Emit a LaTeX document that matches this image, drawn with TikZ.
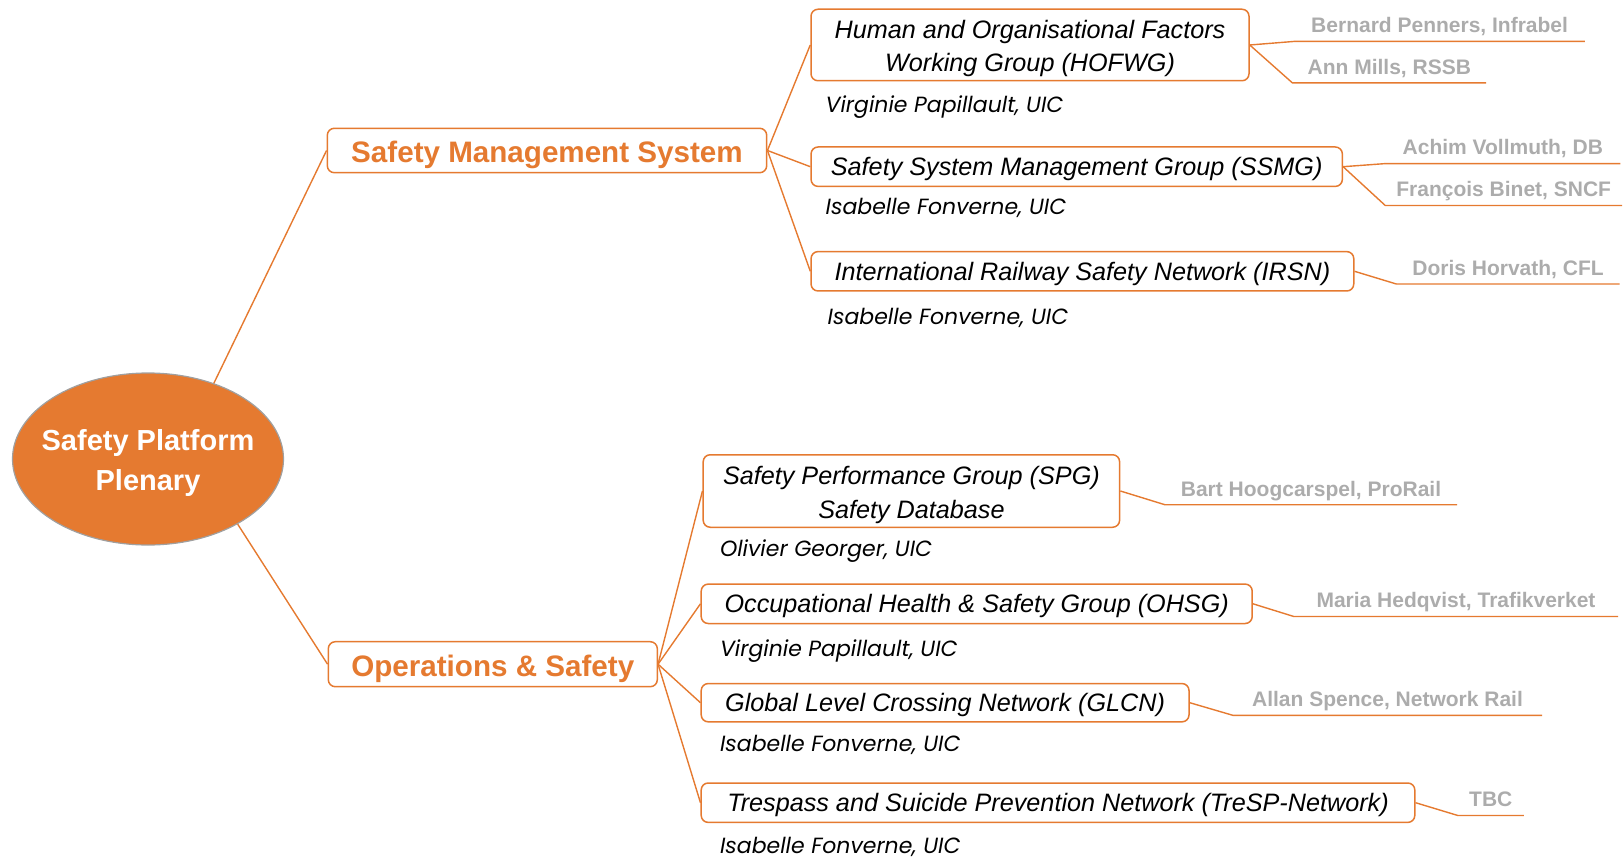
\documentclass[tikz,border=0pt]{standalone}
\usepackage{fontspec}
\setmainfont{Liberation Sans}
\newfontfamily\leadfont{Poppins}
\usetikzlibrary{shapes.geometric}
\definecolor{uicorange}{RGB}{229,122,48}
\definecolor{rimgray}{RGB}{160,160,160}
\definecolor{namegray}{RGB}{172,172,172}
\tikzset{
  hub/.style = {ellipse, draw=rimgray, line width=1.2pt, fill=uicorange, text=white, inner xsep=-30pt, inner ysep=0pt, minimum width=271pt, minimum height=172pt, align=center, text height=62pt, text depth=0pt, font=\fontsize{29}{39.5}\selectfont\bfseries},
  area/.style = {draw=uicorange, line width=1.5pt, rounded corners=7pt, fill=white, text=uicorange, inner sep=0pt, text height=24pt, text depth=0pt, font=\fontsize{29.6}{34}\selectfont\bfseries},
  group/.style = {draw=uicorange, line width=1.5pt, rounded corners=7pt, fill=white, inner sep=0pt, minimum height=39.4pt, text height=18pt, text depth=0pt, font=\fontsize{25.2}{33.5}\selectfont\itshape},
  twoline/.style = {align=center, text height=54pt},
  lead/.style = {anchor=base west, inner sep=0pt, font=\leadfont\fontsize{22}{24}\selectfont\itshape},
  member/.style = {anchor=south, inner xsep=0pt, inner ysep=8.5pt, text depth=0pt, text=namegray, font=\fontsize{21}{24}\selectfont\bfseries},
  link/.style = {draw=uicorange, line width=1.4pt}
}
\begin{document}
\begin{tikzpicture}[x=1pt, y=-1pt]
\useasboundingbox (0,0) rectangle (1624,858);

\node[hub] (plenary) at (148,459) {Safety Platform\\Plenary};

\node[area, minimum width=439.4pt, minimum height=44.4pt] (sms) at (547,150.5) {Safety Management System};
\node[area, minimum width=329pt, minimum height=45pt] (ops) at (492.8,664.2) {Operations \& Safety};

\node[group, twoline, minimum width=438pt, minimum height=71.5pt] (hofwg) at (1030,45) {Human and Organisational Factors\\Working Group (HOFWG)};
\node[group, minimum width=531.3pt] (ssmg) at (1076.7,166.7) {Safety System Management Group (SSMG)};
\node[group, minimum width=542.7pt] (irsn) at (1082.4,271.3) {International Railway Safety Network (IRSN)};
\node[group, twoline, minimum width=416.4pt, minimum height=72.5pt] (spg) at (911.4,491) {Safety Performance Group (SPG)\\Safety Database};
\node[group, minimum width=551pt] (ohsg) at (976.7,603.8) {Occupational Health \& Safety Group (OHSG)};
\node[group, minimum width=487.8pt, minimum height=38.3pt] (glcn) at (945.1,702.7) {Global Level Crossing Network (GLCN)};
\node[group, minimum width=713.6pt] (tresp) at (1058,802.7) {Trespass and Suicide Prevention Network (TreSP-Network)};

\node[lead] (hofwglead) at (825.5,112.6) {Virginie Papillault, UIC};
\node[lead] (ssmglead) at (825.5,215) {Isabelle Fonverne, UIC};
\node[lead] (irsnlead) at (827.5,325) {Isabelle Fonverne, UIC};
\node[lead] (spglead) at (719.8,556.9) {Olivier Georger, UIC};
\node[lead] (ohsglead) at (719.8,656.3) {Virginie Papillault, UIC};
\node[lead] (glcnlead) at (719.8,751.6) {Isabelle Fonverne, UIC};
\node[lead] (tresplead) at (719.8,853.1) {Isabelle Fonverne, UIC};

\node[member, minimum width=290pt] (bernard) at (1439.6,41.4) {Bernard Penners, Infrabel};
\node[member, minimum width=193.4pt] (ann) at (1389.3,82.9) {Ann Mills, RSSB};
\node[member, minimum width=234.5pt] (achim) at (1502.8,163.6) {Achim Vollmuth, DB};
\node[member, minimum width=236.5pt] (francois) at (1503.7,205.5) {François Binet, SNCF};
\node[member, minimum width=223pt] (doris) at (1508,284) {Doris Horvath, CFL};
\node[member, minimum width=292pt] (bart) at (1311,504.7) {Bart Hoogcarspel, ProRail};
\node[member, minimum width=324pt] (maria) at (1456,616.5) {Maria Hedqvist, Trafikverket};
\node[member, minimum width=309pt] (allan) at (1387.5,715.3) {Allan Spence, Network Rail};
\node[member, minimum width=65.5pt] (tbc) at (1490.8,815.5) {TBC};

\draw[link] (plenary.49) -- (sms.west);
\draw[link] (plenary.-36) -- (ops.west);

\draw[link] (sms.east) -- (hofwg.west);
\draw[link] (sms.east) -- (ssmg.west);
\draw[link] (sms.east) -- (irsn.west);
\draw[link] (ops.east) -- (spg.west);
\draw[link] (ops.east) -- (ohsg.west);
\draw[link] (ops.east) -- (glcn.west);
\draw[link] (ops.east) -- (tresp.west);

\draw[link] (hofwg.east) -- (bernard.south west) -- (bernard.south east);
\draw[link] (hofwg.east) -- (ann.south west) -- (ann.south east);
\draw[link] (ssmg.east) -- (achim.south west) -- (achim.south east);
\draw[link] (ssmg.east) -- (francois.south west) -- (francois.south east);
\draw[link] (irsn.east) -- (doris.south west) -- (doris.south east);
\draw[link] (spg.east) -- (bart.south west) -- (bart.south east);
\draw[link] (ohsg.east) -- (maria.south west) -- (maria.south east);
\draw[link] (glcn.east) -- (allan.south west) -- (allan.south east);
\draw[link] (tresp.east) -- (tbc.south west) -- (tbc.south east);
\end{tikzpicture}
\end{document}
